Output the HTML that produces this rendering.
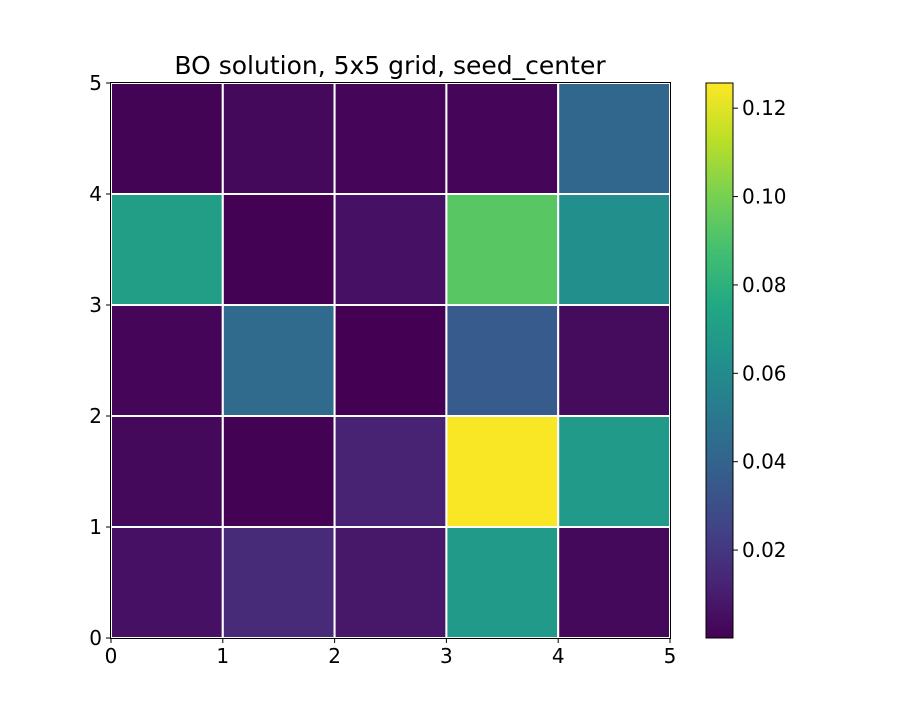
<!DOCTYPE html>
<html><head><meta charset="utf-8">
<style>
body{margin:0;background:#fff;font-family:"DejaVu Sans","Liberation Sans",sans-serif;}
svg text{font-family:"DejaVu Sans","Liberation Sans",sans-serif;}
</style></head>
<body>
<svg id="chart" width="898" height="714" xmlns="http://www.w3.org/2000/svg">
<defs>
<linearGradient id="vir" x1="0" y1="1" x2="0" y2="0">
<stop offset="0" stop-color="#440154"/><stop offset="0.1" stop-color="#482475"/>
<stop offset="0.2" stop-color="#414487"/><stop offset="0.3" stop-color="#355f8d"/>
<stop offset="0.4" stop-color="#2a788e"/><stop offset="0.5" stop-color="#21918c"/>
<stop offset="0.6" stop-color="#22a884"/><stop offset="0.7" stop-color="#44bf70"/>
<stop offset="0.8" stop-color="#7ad151"/><stop offset="0.9" stop-color="#bddf26"/>
<stop offset="1" stop-color="#fde725"/></linearGradient>
</defs>
<text x="390" y="74" font-size="25" text-anchor="middle">BO solution, 5x5 grid, seed_center</text>
<g id="cells"></g>
<g id="axes"></g>
<rect x="706" y="83" width="27" height="555" fill="url(#vir)" stroke="#000" stroke-width="1"/>
<g id="cbticks"></g>
</svg>
<script>
// rows listed from bottom (y=0..1) to top (y=4..5)
const rowsY = [0,1,2,3,4];
const colsX = [0,1,2,3,4];
const values = [
 [0.006,0.015,0.008,0.068,0.003],
 [0.003,0.0005,0.012,0.125,0.068],
 [0.002,0.044,0.0002,0.036,0.004],
 [0.070,0.0005,0.006,0.093,0.062],
 [0.001,0.003,0.002,0.002,0.042]
];
const axisTicks = [0,1,2,3,4,5];
const cbTicks = [0.02,0.04,0.06,0.08,0.10,0.12];
const cbTickLabels = ["0.02","0.04","0.06","0.08","0.10","0.12"];
const vmin = 0.0001, vmax = 0.1257;

const X0=111,X1=670,Y0=638,Y1=83;
const sx=v=>X0+(X1-X0)*v/5;
const sy=v=>Y0-(Y0-Y1)*v/5;
const cy=v=>Y0-(Y0-Y1)*(v-vmin)/(vmax-vmin);
const stops=["#440154","#482475","#414487","#355f8d","#2a788e","#21918c","#22a884","#44bf70","#7ad151","#bddf26","#fde725"];
function hex(h){return [1,3,5].map(i=>parseInt(h.substr(i,2),16));}
function viridis(v){let t=Math.max(0,Math.min(1,(v-vmin)/(vmax-vmin)))*10;let i=Math.min(9,Math.floor(t));let f=t-i;
 const a=hex(stops[i]),b=hex(stops[i+1]);return "rgb("+a.map((c,k)=>Math.round(c+(b[k]-c)*f)).join(",")+")";}
const NS="http://www.w3.org/2000/svg";
function mk(tag,attrs,parent){const e=document.createElementNS(NS,tag);for(const k in attrs)e.setAttribute(k,attrs[k]);parent.appendChild(e);return e;}
const cells=document.getElementById('cells');
rowsY.forEach((r,ri)=>colsX.forEach((c,ci)=>{
 const el=mk('rect',{x:sx(c),y:sy(r+1),width:sx(c+1)-sx(c),height:sy(r)-sy(r+1),fill:viridis(values[ri][ci]),stroke:'#fff','stroke-width':2},cells);
 
 
}));
const axes=document.getElementById('axes');
const frame=mk('rect',{x:X0-0.5,y:Y1-0.5,width:X1-X0+1,height:Y0-Y1+1,fill:'none',stroke:'#000','stroke-width':1},axes);


axisTicks.forEach(t=>{
 mk('line',{x1:sx(t),x2:sx(t),y1:Y0,y2:Y0+5,stroke:'#000'},axes);
 const tx=mk('text',{x:sx(t),y:Y0+25,'font-size':20,'text-anchor':'middle'},axes);tx.textContent=t;
 
 
 mk('line',{x1:X0-5,x2:X0,y1:sy(t),y2:sy(t),stroke:'#000'},axes);
 const ty=mk('text',{x:X0-9,y:sy(t)+7,'font-size':20,'text-anchor':'end'},axes);ty.textContent=t;
 
 
});
const cbt=document.getElementById('cbticks');
cbTicks.forEach((t,i)=>{
 mk('line',{x1:733,x2:738,y1:cy(t),y2:cy(t),stroke:'#000'},cbt);
 const tx=mk('text',{x:742,y:cy(t)+7,'font-size':20},cbt);tx.textContent=cbTickLabels[i];
 
 
});
</script>
</body></html>
